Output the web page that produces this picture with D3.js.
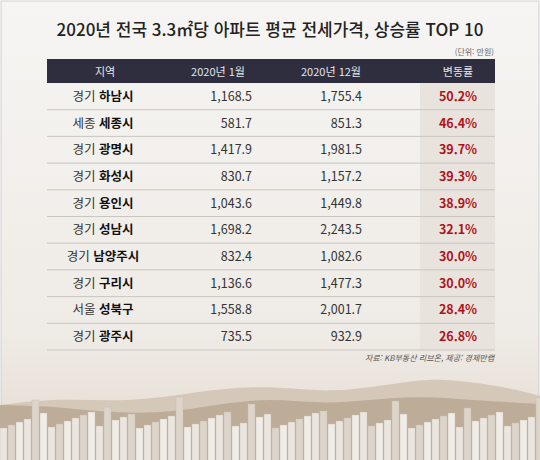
<!DOCTYPE html>
<html lang="ko">
<head>
<meta charset="UTF-8">
<script src="https://cdn.jsdelivr.net/npm/d3@7"></script>
<style>
  body{margin:0;background:#fff;}
  text{font-family:"Noto Sans CJK KR","Noto Sans",sans-serif;}
</style>
</head>
<body>
<svg id="chart" width="540" height="460"></svg>
<script>
const provinces = ["경기","세종","경기","경기","경기","경기","경기","경기","서울","경기"];
const cities = ["하남시","세종시","광명시","화성시","용인시","성남시","남양주시","구리시","성북구","광주시"];
const jan2020 = [1168.5, 581.7, 1417.9, 830.7, 1043.6, 1698.2, 832.4, 1136.6, 1558.8, 735.5];
const dec2020 = [1755.4, 851.3, 1981.5, 1157.2, 1449.8, 2243.5, 1082.6, 1477.3, 2001.7, 932.9];
const changes = [50.2, 46.4, 39.7, 39.3, 38.9, 32.1, 30.0, 30.0, 28.4, 26.8];
const headers = ["지역","2020년 1월","2020년 12월","변동률"];

const W = 540, H = 460;
const svg = d3.select("#chart");
const fmt = d3.format(",.1f");

// background
const defs = svg.append("defs");
const bg = defs.append("linearGradient").attr("id","bg").attr("x1",0).attr("x2",0).attr("y1",0).attr("y2",1);
bg.append("stop").attr("offset","0").attr("stop-color","#f6f5f3");
bg.append("stop").attr("offset","0.72").attr("stop-color","#efebe6");
bg.append("stop").attr("offset","1").attr("stop-color","#e4dbd1");
svg.append("rect").attr("x",1).attr("y",1).attr("width",W-2).attr("height",H-2)
  .attr("fill","url(#bg)").attr("stroke","#cfcfcf");

// scenery: mountains and buildings
const mtn = d3.area().x(d=>d[0]).y0(H).y1(d=>d[1]).curve(d3.curveBasis);
svg.append("path").attr("fill","#cdbfae").attr("opacity",0.75)
  .attr("d", mtn([[0,405],[60,398],[120,402],[180,395],[240,386],[290,388],[330,392],[380,386],[430,378],[470,382],[510,388],[540,396]]));
svg.append("path").attr("fill","#b8a792").attr("opacity",0.85)
  .attr("d", mtn([[0,405],[50,406],[100,412],[160,414],[220,404],[270,398],[320,404],[370,400],[420,396],[470,400],[540,404]]));
const bx = d3.range(0, 540, 8);
svg.append("g").selectAll("rect").data(bx).enter().append("rect")
  .attr("x", d => d)
  .attr("y", (d,i) => 428 - ((i*37)%17) - (i%9===4 ? 16 : 0))
  .attr("width", 7)
  .attr("height", H)
  .attr("fill", (d,i) => i%3===0 ? "#ebe6e0" : (i%3===1 ? "#ddd4ca" : "#f0ece7"))
  .attr("stroke","#c8bcae").attr("stroke-width",0.4);

// title
svg.append("text").attr("x",W/2).attr("y",36).attr("text-anchor","middle")
  .attr("font-size",17).attr("font-weight",500).attr("fill","#222")
  .text("2020년 전국 3.3㎡당 아파트 평균 전세가격, 상승률 TOP 10");
svg.append("text").attr("x",494).attr("y",55).attr("text-anchor","end")
  .attr("font-size",8).attr("fill","#666").text("(단위: 만원)");

// table layout
const left = 47, right = 495, headTop = 59, headH = 24;
const y = d3.scaleBand().domain(d3.range(cities.length)).range([headTop+headH, 350]);
const colX = [103, 252, 362, 458];

svg.append("rect").attr("x",420).attr("y",headTop+headH).attr("width",right-420)
  .attr("height",350-headTop-headH).attr("fill","#e9e3dd");
svg.append("rect").attr("x",left).attr("y",headTop).attr("width",right-left).attr("height",headH).attr("fill","#2f2e3f");
svg.append("g").selectAll("text").data(headers).enter().append("text")
  .attr("x",(d,i)=>[105,218,331,458][i]).attr("y",headTop+16.5).attr("text-anchor","middle")
  .attr("font-size",11).attr("fill","#e6e6ea").text(d=>d);

const rows = svg.append("g").selectAll("g").data(cities).enter().append("g")
  .attr("transform",(d,i)=>`translate(0,${y(i)})`);
rows.append("line").attr("x1",left).attr("x2",right).attr("y1",y.bandwidth()).attr("y2",y.bandwidth())
  .attr("stroke","#c9c6c2").attr("stroke-width",1);
const ty = y.bandwidth()/2 + 4.5;
const reg = rows.append("text").attr("x",colX[0]).attr("y",ty).attr("text-anchor","middle").attr("font-size",12.5).attr("fill","#333");
reg.append("tspan").text((d,i)=>provinces[i]+" ");
reg.append("tspan").attr("font-weight",700).attr("fill","#111").text(d=>d);
rows.append("text").attr("x",colX[1]).attr("y",ty).attr("text-anchor","end").attr("font-size",12.5).attr("fill","#333")
  .text((d,i)=>fmt(jan2020[i]));
rows.append("text").attr("x",colX[2]).attr("y",ty).attr("text-anchor","end").attr("font-size",12.5).attr("fill","#333")
  .text((d,i)=>fmt(dec2020[i]));
rows.append("text").attr("x",colX[3]).attr("y",ty).attr("text-anchor","middle").attr("font-size",12.5).attr("font-weight",700).attr("fill","#b0131c")
  .text((d,i)=>changes[i].toFixed(1)+"%");

svg.append("text").attr("x",494).attr("y",361).attr("text-anchor","end")
  .attr("font-size",8).attr("font-style","italic").attr("fill","#555").text("자료: KB부동산 리브온, 제공: 경제만랩");
</script>
</body>
</html>
